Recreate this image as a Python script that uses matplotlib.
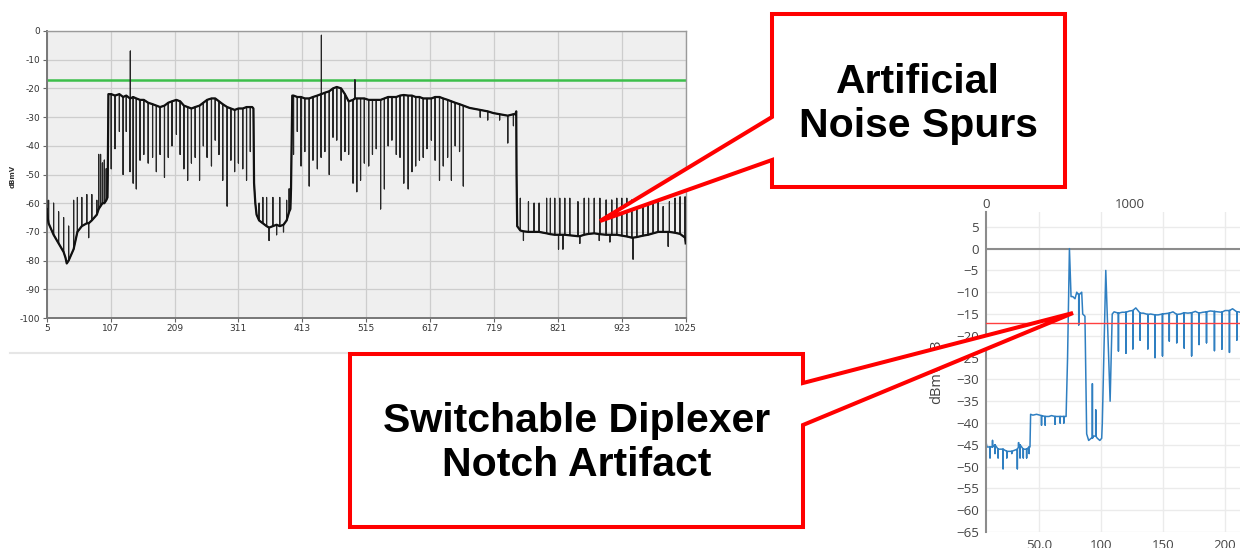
import matplotlib
matplotlib.use("Agg")
import matplotlib.pyplot as plt
from matplotlib.patches import Polygon
from matplotlib.lines import Line2D

# ---------------------------------------------------------------- data ----
# Left analyser trace (MHz, dBmV). Plain points = baseline / transitions,
# spurs = (x, baseline level, tip level) vertical excursions.
LEFT_PTS_X = [5, 35, 37, 42, 102, 102.5, 103.5,
              333, 335, 336, 338, 340,
              394, 395, 396, 397,
              680, 690, 718, 753, 754.5, 755, 756, 1025]
LEFT_PTS_Y = [-62, -79, -81, -79, -58, -50, -22,
              -26.5, -27, -53, -60, -64,
              -62, -55, -40, -22.5,
              -26.8, -27.2, -28.6, -29, -28, -50, -68, -74]

LEFT_SPUR_X = [
    # below 103 MHz
    5, 8, 16, 24, 32, 40, 48, 54, 61, 69, 72, 77, 85, 88, 91, 94, 97, 100,
    # first loaded block
    108, 114, 121, 127, 132, 138, 138.5, 143, 148, 154, 160, 167, 174, 180,
    186, 193, 199, 205, 212, 218, 224, 230, 236, 242, 249, 255, 261, 268,
    274, 280, 286, 293, 299, 305, 311, 318, 324, 330,
    # notch block
    344, 350, 356, 360, 366, 372, 377, 383, 388, 392,
    # second loaded block
    399, 405, 411, 417, 424, 430, 437, 443, 443.5, 449, 456, 462, 468, 475,
    481, 487, 494, 497, 500, 506, 512, 519, 525, 531, 538, 544, 550, 556,
    563, 569, 575, 582, 588, 594, 600, 606, 612, 619, 625, 632, 638, 645,
    651, 657, 664, 670, 697, 709, 728, 741, 750,
    # upper block (noise spurs)
    761, 766, 774, 783, 791, 803, 809, 816, 822, 824, 829, 832, 840, 853,
    856, 863, 870, 879, 887, 888, 898, 904, 907, 915, 923, 931, 939, 941,
    947, 957, 965, 973, 981, 989, 997, 999, 1008, 1016, 1024,
]
LEFT_SPUR_BASE = [
    -63, -67, -71, -74, -77, -80, -76, -70, -68, -67, -67, -66, -64, -62,
    -61, -60, -60, -59,
    -22, -22.5, -22, -23, -22.5, -23.5, -23.5, -23, -23.5, -24, -24, -25,
    -25.5, -26, -26.5, -26, -25, -24.5, -24, -24.5, -26, -26.5, -27, -26.5,
    -26, -25, -24, -23.5, -23.5, -24.5, -25.5, -26.5, -27, -27.5, -27, -27,
    -26.5, -26.5,
    -66, -67, -68, -68.5, -68, -67.5, -68, -67.5, -66, -63,
    -22.5, -23, -23, -23.5, -23.5, -23, -22.5, -22, -22, -21.5, -21, -20,
    -19.5, -20, -22, -24.5, -24, -23.5, -23.5, -23.5, -23.5, -24, -24, -24,
    -24, -23.5, -23, -23, -23, -22.5, -22.3, -22.5, -22.5, -23, -23, -23.5,
    -23.5, -23.5, -23, -23, -23.5, -24, -24.5, -25, -25.5, -26, -27.5, -28,
    -29, -29.5, -29,
    -69.5, -69.8, -70, -70, -70, -70.5, -70.8, -71, -71, -71, -71, -71,
    -71.2, -71.5, -71.5, -71, -70.7, -70.5, -70.8, -70.8, -71, -71, -71,
    -71, -71.3, -71.6, -72, -72, -71.8, -71.3, -71, -70.5, -70, -70, -70,
    -70, -70.3, -70.7, -72,
]
LEFT_SPUR_TIP = [
    -59, -59, -60, -63, -65, -68, -59, -58, -58, -57, -72, -57, -59, -43,
    -43, -46, -45, -48,
    -48, -41, -35, -50, -35, -49, -7, -53, -55, -45, -43, -46, -44, -49,
    -43, -51, -44, -40, -36, -43, -48, -52, -46, -44, -52, -40, -44, -47,
    -38, -43, -52, -61, -45, -49, -46, -48, -52, -42,
    -60, -58, -58, -73, -58, -71, -58, -70, -59, -55,
    -43, -35, -47, -42, -54, -45, -48, -44, -1.5, -42, -50, -37, -38, -45,
    -42, -43, -53, -17, -56, -52, -46, -47, -43, -41, -62, -55, -40, -38,
    -43, -44, -53, -55, -49, -47, -45, -44, -41, -38, -45, -52, -47, -44,
    -52, -40, -42, -54, -30, -31, -31, -39, -33,
    -58.3, -73, -59.5, -60, -60, -58.3, -58.3, -58.3, -76, -58.3, -76,
    -58.3, -58.3, -59.5, -74, -58.3, -58.3, -58.3, -73, -58.3, -58.9, -73.5,
    -58.9, -58.3, -58.3, -58.3, -58.9, -79.5, -58.9, -59.5, -58.9, -60.1,
    -58.9, -61.2, -75, -59.5, -58.3, -57.8, -57.8,
]
LEFT_X_TICKS = [5, 107, 209, 311, 413, 515, 617, 719, 821, 923, 1025]
LEFT_Y_TICKS = [0, -10, -20, -30, -40, -50, -60, -70, -80, -90, -100]
LEFT_LIMIT = -17

# Right (plotly) trace, MHz / dBmV
RIGHT_PTS_X = [7, 8, 42.7, 43.2, 45, 48, 58, 60, 71.8, 73, 74.5, 75.8, 77.2,
               79, 80.4, 81.6, 82.6, 84.4, 85.2, 87, 88.4, 90, 92, 94, 97,
               99, 100.5, 101, 103.8, 107.3, 109, 110.5,
               117, 123, 128, 134, 140, 146, 152, 158, 164, 170, 176, 182,
               188, 194, 200, 206, 211, 212]
RIGHT_PTS_Y = [-44, -45.5, -45.5, -38, -38.2, -38, -38.5, -38.3, -38.5, -25,
               0, -11, -11, -11.5, -10, -10.5, -10.5, -10, -15, -15.5, -42.5,
               -44, -43.5, -43, -43.5, -44, -43.5, -40, -5, -35, -15, -14.5,
               -14.6, -14.3, -13.6, -14.8, -15, -15.2, -14.9, -14.5, -15,
               -14.8, -14.4, -14.6, -14.3, -14.5, -14.2, -13.8, -14.5, -14.6]
RIGHT_SPUR_X = [10.5, 12.5, 14.5, 17, 21, 24, 28, 32.5, 33.5, 34.7, 37.3,
                40, 42,
                52, 55, 63, 67, 70,
                82, 93, 95.7,
                114, 120, 125.6, 131.5, 137.7, 143.5, 149.5, 155, 161, 167,
                173, 179, 185, 191.4, 197.3, 203.5, 209.4]
RIGHT_SPUR_BASE = [-45.5, -45.5, -45, -46, -46, -46.5, -46.5, -46, -45.5,
                   -45, -46, -46, -45.5,
                   -38.3, -38.5, -38.5, -38.5, -38.5,
                   -10.5, -43.5, -43,
                   -14.8, -14.6, -14.2, -14.8, -15.1, -15.2, -15, -14.8,
                   -15.1, -14.7, -14.7, -14.8, -14.5, -14.4, -14.6, -14.2,
                   -14.5]
RIGHT_SPUR_TIP = [-48, -44, -47, -48, -50.5, -48, -47, -50.5, -44.5, -48,
                  -48, -48, -47,
                  -40.5, -40.5, -40.3, -40, -40,
                  -17.5, -31, -37,
                  -23.5, -24, -23, -21, -23, -25, -24.6, -21.2, -21.6,
                  -22.8, -24.6, -22, -21.6, -23.4, -23.1, -23.8, -21]
RIGHT_X_TICKS = [50, 100, 150, 200]
RIGHT_X_LABELS = ["50.0", "100", "150", "200"]
RIGHT_TOP_TICKS = [0, 1000]
RIGHT_Y_TICKS = list(range(-65, 6, 5))
RIGHT_LIMIT = -17

CALLOUT_TEXT = ["Artificial\nNoise Spurs", "Switchable Diplexer\nNotch Artifact"]

# -------------------------------------------------------------- layout ----
W_PX, H_PX = 1240, 548


def fx(px):
    return px / W_PX


def fy(py):
    return 1 - py / H_PX


def build_trace(pts_x, pts_y, spur_x, spur_base, spur_tip, with_tips=True):
    items = [(x, [y]) for x, y in zip(pts_x, pts_y)]
    for x, b, t in zip(spur_x, spur_base, spur_tip):
        items.append((x, [b, t, b] if with_tips else [b]))
    items.sort(key=lambda it: it[0])
    xs, ys = [], []
    for x, yl in items:
        xs += [x] * len(yl)
        ys += yl
    return xs, ys


fig = plt.figure(figsize=(W_PX / 100, H_PX / 100), dpi=100)
fig.patch.set_facecolor("white")

# ---- left chart
ax1 = fig.add_axes([fx(46.7), fy(318), fx(685.7) - fx(46.7), fy(31) - fy(318)])
ax1.set_facecolor("#efefef")
ax1.set_xlim(5, 1025)
ax1.set_ylim(-100, 0)
ax1.set_xticks(LEFT_X_TICKS)
ax1.set_xticklabels([str(v) for v in LEFT_X_TICKS])
ax1.set_yticks(LEFT_Y_TICKS)
ax1.set_yticklabels([str(v) for v in LEFT_Y_TICKS])
ax1.grid(True, color="#cdcdcd", lw=0.9)
ax1.set_axisbelow(True)
for lab in ax1.get_xticklabels() + ax1.get_yticklabels():
    lab.set_family(["Liberation Sans Narrow", "DejaVu Sans"])
ax1.tick_params(labelsize=6.5, labelcolor="#333333", color="#666666",
                length=3, width=0.8, pad=1.5)
for side, sp in ax1.spines.items():
    sp.set_color("#777777" if side in ("left", "bottom") else "#9a9a9a")
    sp.set_linewidth(1.4 if side in ("left", "bottom") else 1.0)

ax1.axhline(LEFT_LIMIT, color="#3cbf4a", lw=1.8, zorder=2)
lx, ly = build_trace(LEFT_PTS_X, LEFT_PTS_Y, LEFT_SPUR_X, LEFT_SPUR_BASE, LEFT_SPUR_TIP)
ax1.plot(lx, ly, color="#262626", lw=0.85, zorder=3)
bx, by = build_trace(LEFT_PTS_X, LEFT_PTS_Y, LEFT_SPUR_X, LEFT_SPUR_BASE,
                     LEFT_SPUR_TIP, with_tips=False)
ax1.plot(bx, by, color="#111111", lw=1.6, zorder=3)
fig.text(fx(13), fy(176), "dBmV", rotation=90, fontsize=5, fontweight="bold",
         color="#333333", ha="center", va="center")

# thin page separator under the left screenshot
fig.add_artist(Line2D([fx(10), fx(350)], [fy(353), fy(353)], color="#e6e6e6", lw=1.5))

# ---- right chart
ax2 = fig.add_axes([fx(985.7), fy(532), fx(1240) - fx(985.7), fy(212) - fy(532)])
ax2.set_xlim(7, 212)
ax2.set_ylim(-65, 8.4)
ax2.set_facecolor("white")
ax2.set_xticks(RIGHT_X_TICKS)
ax2.set_xticklabels(RIGHT_X_LABELS)
ax2.set_yticks(RIGHT_Y_TICKS)
ax2.grid(True, color="#ebebeb", lw=1.0)
ax2.set_axisbelow(True)
for side in ("top", "right", "bottom"):
    ax2.spines[side].set_visible(False)
ax2.spines["left"].set_color("#8c8c8c")
ax2.spines["left"].set_linewidth(1.5)
ax2.tick_params(length=0, labelsize=9.5, labelcolor="#444444", pad=5)
for lab in ax2.get_xticklabels() + ax2.get_yticklabels():
    lab.set_family(["Open Sans", "DejaVu Sans"])
ax2.set_ylabel("dBmV/dB", fontsize=10.5, color="#444444", family=["Open Sans", "DejaVu Sans"])
ax2.yaxis.set_label_coords(-0.165, 0.5)
ax2.axhline(0, color="#8c8c8c", lw=1.5, zorder=1)
rx, ry = build_trace(RIGHT_PTS_X, RIGHT_PTS_Y, RIGHT_SPUR_X, RIGHT_SPUR_BASE, RIGHT_SPUR_TIP)
ax2.plot(rx, ry, color="#2f7fc1", lw=1.1, zorder=2)
ax2.axhline(RIGHT_LIMIT, color="#ff4040", lw=1.0, zorder=3)

ax3 = ax2.twiny()
ax3.set_xlim(0, 1000 * (1240 - 985.7) / (1130 - 985.7))
ax3.set_xticks(RIGHT_TOP_TICKS)
ax3.tick_params(length=0, labelsize=9.5, labelcolor="#444444", pad=1)
for lab in ax3.get_xticklabels():
    lab.set_family(["Open Sans", "DejaVu Sans"])
for sp in ax3.spines.values():
    sp.set_visible(False)

# ---- callouts (figure pixel coordinates)
callout_shapes = [
    [(772, 14), (1065, 14), (1065, 187), (772, 187), (772, 160), (600, 221), (772, 117)],
    [(350, 354), (803, 354), (803, 383), (1073, 313), (803, 425), (803, 527), (350, 527)],
]
callout_centres = [(918, 104), (577, 443)]
for shape, (cx, cy), txt in zip(callout_shapes, callout_centres, CALLOUT_TEXT):
    poly = Polygon([(fx(x), fy(y)) for x, y in shape], closed=True,
                   transform=fig.transFigure, facecolor="white",
                   edgecolor="#ff0000", lw=2.9, joinstyle="miter", zorder=10)
    fig.add_artist(poly)
    fig.text(fx(cx), fy(cy), txt, ha="center", va="center", fontsize=29.5,
             fontweight="bold", family=["Liberation Sans", "DejaVu Sans"],
             color="black", linespacing=1.2, zorder=11)

fig.savefig("out.png", dpi=100)
